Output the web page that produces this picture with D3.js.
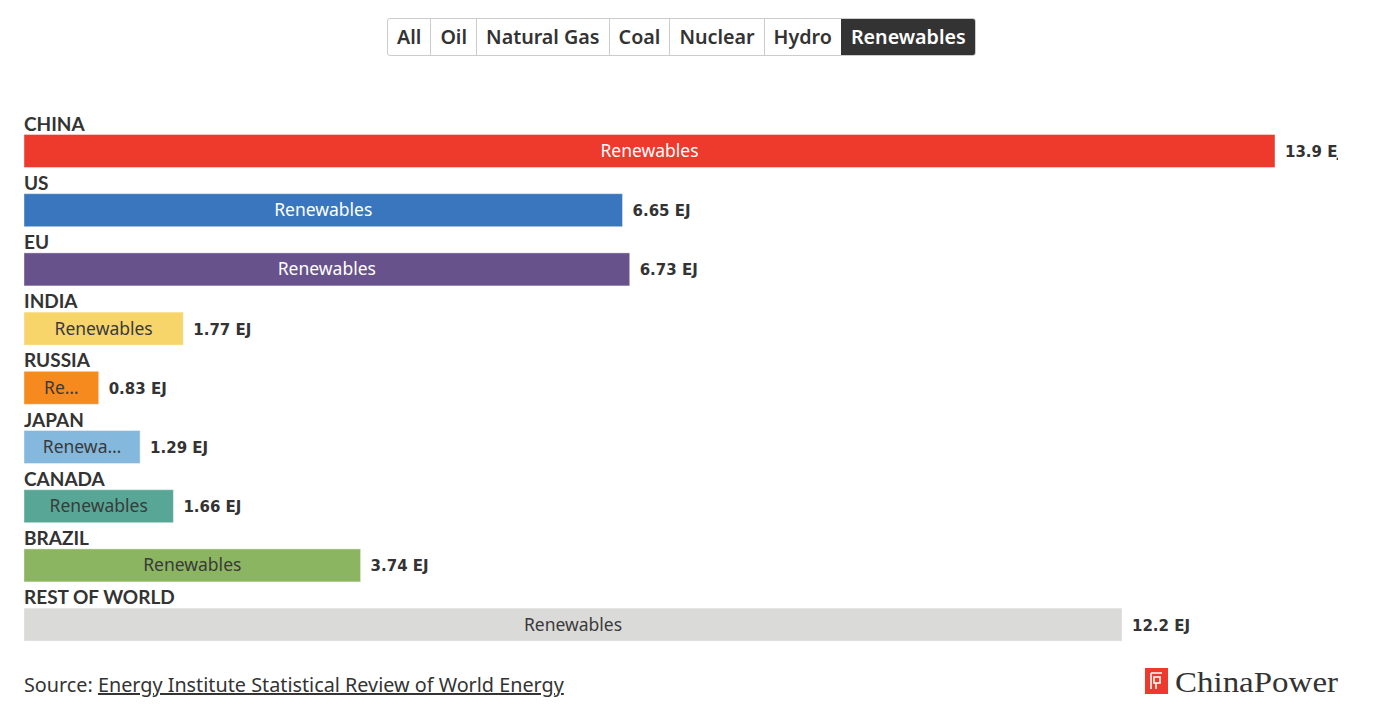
<!DOCTYPE html>
<html>
<head>
<meta charset="utf-8">
<script src="https://cdn.jsdelivr.net/npm/d3@7"></script>
<style>
  body { margin:0; background:#fff; font-family:"Noto Sans", Lato, sans-serif; color:#333; }
  #buttons { position:absolute; top:18px; left:386px; display:flex; border:1px solid #ccc; border-radius:3px; overflow:hidden; }
  #buttons div { padding:0 9px; height:36px; line-height:36px; font-size:19.7px; font-weight:600; color:#333; border-left:1px solid #ccc; }
  #buttons div:first-child { border-left:none; }
  #buttons div.active { background:#333; color:#fff; border-left-color:#333; }
  svg { position:absolute; top:0; left:0; }
</style>
</head>
<body>
<div id="buttons"></div>
<svg id="chart" width="1382" height="707"></svg>
<script>
// ---- data ----
var fuels = ["All","Oil","Natural Gas","Coal","Nuclear","Hydro","Renewables"];
var activeFuel = "Renewables";
var countries = ["CHINA","US","EU","INDIA","RUSSIA","JAPAN","CANADA","BRAZIL","REST OF WORLD"];
var values = [13.9, 6.65, 6.73, 1.77, 0.83, 1.29, 1.66, 3.74, 12.2];
var colors = ["#ee3a2c","#3a76bd","#68528c","#f7d56b","#f68a1e","#84b8dc","#58a796","#8bb561","#dadad9"];
var darkText = [false,false,false,true,true,true,true,true,true];

// ---- layout ----
var left = 24, right = 1338;
var svg = d3.select("#chart");

var btns = d3.select("#buttons");
btns.selectAll("div").data(fuels).enter()
  .append("div")
  .attr("class", function(d){ return d === activeFuel ? "active" : null; })
  .text(function(d){ return d; });
// center the button bar over the chart
btns.style("left", Math.round((left + right)/2 - btns.node().offsetWidth/2) + "px");

// value labels get cut off at the chart's right edge
svg.append("clipPath").attr("id","chartClip")
  .append("rect").attr("x",0).attr("y",0).attr("width",right).attr("height",707);

var x = d3.scaleLinear().domain([0, d3.max(values)]).range([left, 1275]);
var y = d3.scaleBand().domain(countries).range([112, 112 + 59.2*countries.length]);

// fit text into width, adding an ellipsis if it does not fit
function fitText(sel, txt, w){
  sel.text(txt);
  if (sel.node().getComputedTextLength() <= w) return;
  for (var n = txt.length - 1; n > 0; n--) {
    sel.text(txt.slice(0, n).trim() + "\u2026");
    if (sel.node().getComputedTextLength() <= w) return;
  }
}

var rows = svg.selectAll("g.row").data(countries).enter()
  .append("g").attr("class","row")
  .attr("transform", function(d){ return "translate(0," + y(d) + ")"; });

rows.append("text")
  .attr("x", left).attr("y", 18.5)
  .style("font-family","Lato, sans-serif")
  .style("font-size","19px").style("font-weight","700").attr("fill","#333")
  .text(function(d){ return d; });

rows.append("rect")
  .attr("x", left).attr("y", 22.5)
  .attr("width", function(d,i){ return x(values[i]) - left; })
  .attr("height", 33)
  .attr("fill", function(d,i){ return colors[i]; })
  .attr("stroke", "rgba(255,255,255,0.4)").attr("stroke-width", 1);

rows.each(function(d,i){
  var g = d3.select(this);
  var w = x(values[i]) - left;
  var t = g.append("text")
    .attr("x", left + w/2).attr("y", 45)
    .attr("text-anchor","middle")
    .style("font-size","17.5px")
    .attr("fill", darkText[i] ? "#3a3a3a" : "#fff");
  fitText(t, activeFuel, w - 32);
});

var valueLayer = svg.append("g").attr("clip-path","url(#chartClip)");
valueLayer.selectAll("text").data(countries).enter()
  .append("text")
  .attr("x", function(d,i){ return x(values[i]) + 10; })
  .attr("y", function(d){ return y(d) + 45; })
  .style("font-family","'DejaVu Sans', sans-serif")
  .style("font-size","15px").style("font-weight","700").attr("fill","#333")
  .text(function(d,i){ return values[i] + " EJ"; });

// ---- source ----
var src = svg.append("text").attr("x", left).attr("y", 692)
  .style("font-size","19.8px").attr("fill","#333");
src.append("tspan").text("Source: ");
src.append("tspan").style("text-decoration","underline").text("Energy Institute Statistical Review of World Energy");

// ---- logo ----
var logo = svg.append("g").attr("transform","translate(1145,668)");
logo.append("rect").attr("width",23).attr("height",26).attr("fill","#ee3a2c");
logo.append("path")
  .attr("d","M6,5 H17 M6,5 V21 M9,9 H15 V15 H9 Z M11,15 V21")
  .attr("fill","none").attr("stroke","#fff").attr("stroke-width",1.6);
logo.append("text").attr("x",30).attr("y",24)
  .style("font-family","'Liberation Serif', serif").style("font-size","29px")
  .attr("fill","#333").attr("textLength",163).attr("lengthAdjust","spacingAndGlyphs")
  .text("ChinaPower");
</script>
</body>
</html>
